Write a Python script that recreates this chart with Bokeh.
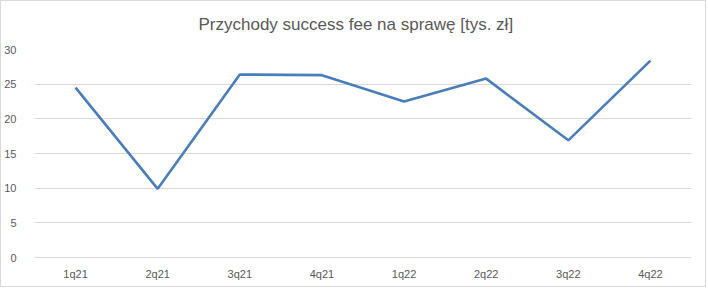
from bokeh.plotting import figure
from bokeh.models import FactorRange, Range1d, SingleIntervalTicker
from bokeh.embed import file_html
from bokeh.resources import INLINE

quarters = ["1q21", "2q21", "3q21", "4q21", "1q22", "2q22", "3q22", "4q22"]
success_fee = [24.5, 9.9, 26.4, 26.3, 22.5, 25.8, 16.9, 28.4]
title_text = "Przychody success fee na sprawę [tys. zł]"

FONT = "Liberation Sans"
TXT = "#595959"
GRID = "#d9d9d9"

p = figure(width=706, height=287, x_range=FactorRange(*quarters, range_padding=0),
           y_range=Range1d(0, 30), output_backend="svg", toolbar_location=None,
           min_border_left=32, min_border_right=16, min_border_top=48, min_border_bottom=31)
p.styles = {"border": "1px solid #d9d9d9"}

p.title.text = title_text
p.title.align = "left"
p.title.offset = 164
p.title.standoff = 27
p.title.vertical_align = "top"
p.title.text_line_height = 0.7
p.title.text_font = FONT
p.title.text_font_size = "17px"
p.title.text_font_style = "normal"
p.title.text_color = TXT

p.line(quarters, success_fee, line_color="#4a7ebb", line_width=2.6)

p.outline_line_color = None
p.xgrid.grid_line_color = None
p.ygrid.grid_line_color = GRID
p.ygrid.grid_line_width = 1
p.yaxis.ticker = SingleIntervalTicker(interval=5)

for ax in (p.xaxis, p.yaxis):
    ax.axis_line_color = None
    ax.major_tick_line_color = None
    ax.minor_tick_line_color = None
    ax.major_label_text_font = FONT
    ax.major_label_text_font_size = "11px"
    ax.major_label_text_color = TXT
p.xaxis.axis_line_color = GRID
p.xaxis.major_label_standoff = 4
p.yaxis.major_label_standoff = 12

open("out.html", "w").write(file_html(p, INLINE))
